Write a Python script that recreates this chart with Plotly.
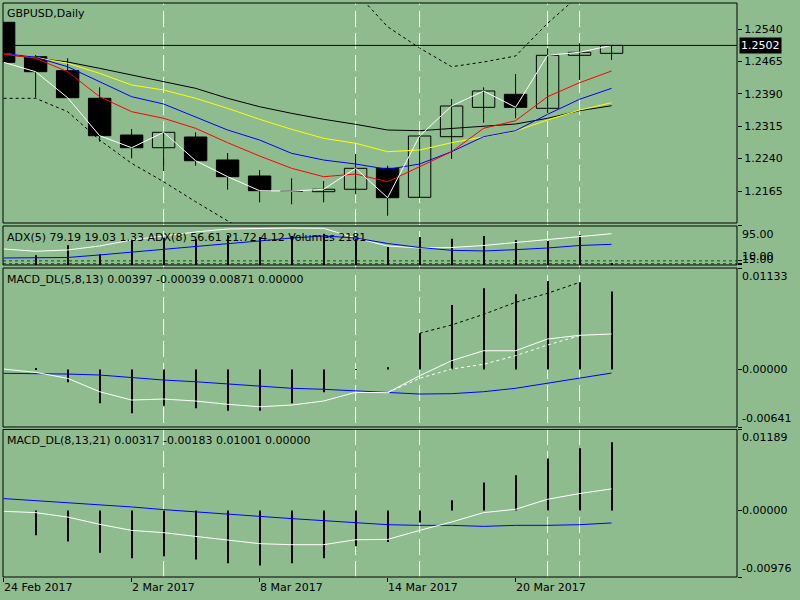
import plotly.graph_objects as go

# GBPUSD daily, 24 Feb - 23 Mar 2017
dates = ["24 Feb 2017", "27 Feb", "28 Feb", "1 Mar", "2 Mar 2017", "3 Mar", "6 Mar", "7 Mar",
         "8 Mar 2017", "9 Mar", "10 Mar", "13 Mar", "14 Mar 2017", "15 Mar", "16 Mar", "17 Mar",
         "20 Mar 2017", "21 Mar", "22 Mar", "23 Mar"]
date_ticks = [0, 4, 8, 12, 16]

opens = [1.25555, 1.24759, 1.24435, 1.23796, 1.22946, 1.22652, 1.22900, 1.22368, 1.21997, 1.21652,
         1.21634, 1.21690, 1.22175, 1.21504, 1.22907, 1.23587, 1.23888, 1.23564, 1.24791, 1.24837]
highs = [1.25555, 1.24798, 1.24722, 1.24050, 1.23085, 1.23009, 1.23009, 1.22530, 1.22136, 1.21944,
         1.21882, 1.22506, 1.22236, 1.22940, 1.23780, 1.24050, 1.24358, 1.24953, 1.25069, 1.25030]
lows = [1.24629, 1.23810, 1.23810, 1.22791, 1.22407, 1.22113, 1.22236, 1.21680, 1.21388, 1.21342,
        1.21388, 1.21574, 1.21078, 1.21500, 1.22391, 1.23231, 1.23333, 1.23450, 1.24220, 1.24682]
closes = [1.24629, 1.24412, 1.23810, 1.22930, 1.22652, 1.23009, 1.22351, 1.21981, 1.21657, 1.21648,
          1.21690, 1.22175, 1.21495, 1.22923, 1.23618, 1.23965, 1.23587, 1.24791, 1.24861, 1.25020]
last_price = 1.2502

ma_red = [1.24814, 1.24722, 1.24412, 1.23833, 1.23486, 1.23333, 1.23101, 1.22768, 1.22460, 1.22175,
          1.21981, 1.22043, 1.21865, 1.22212, 1.22560, 1.23101, 1.23277, 1.23833, 1.24157, 1.24428]
ma_blue = [1.24837, 1.24745, 1.24527, 1.24180, 1.23833, 1.23664, 1.23370, 1.23062, 1.22830, 1.22522,
           1.22367, 1.22275, 1.22152, 1.22275, 1.22560, 1.22907, 1.23046, 1.23425, 1.23773, 1.24027]
ma_yellow = [1.24837, 1.24745, 1.24606, 1.24374, 1.24104, 1.23988, 1.23796, 1.23564, 1.23310, 1.23078,
             1.22870, 1.22754, 1.22560, 1.22599, 1.22768, 1.22907, 1.23039, 1.23293, 1.23525, 1.23694]
ma_black = [1.24821, 1.24722, 1.24636, 1.24490, 1.24335, 1.24196, 1.24027, 1.23796, 1.23601, 1.23448,
            1.23310, 1.23194, 1.23062, 1.23046, 1.23101, 1.23154, 1.23201, 1.23333, 1.23509, 1.23624]
band_upper = [None] * 11 + [1.26257, 1.25453, 1.24960, 1.24527, 1.24636, 1.24775, 1.25532, 1.26187, None]
band_lower = [1.23796, 1.23796, 1.23486, 1.22830, 1.22291, 1.21865, 1.21402, 1.20962, 1.20515] + [None] * 11

adx5 = [39.0, 33.4, 36.5, 46.3, 60.9, 70.6, 80.4, 87.7, 88.9, 90.1,
        89.4, 65.8, 46.3, 41.4, 42.6, 47.5, 54.8, 62.1, 70.6, 76.2]
adx8 = [17.0, 17.0, 18.3, 24.4, 31.7, 39.0, 46.3, 51.9, 58.5, 65.8,
        70.6, 65.8, 52.4, 42.6, 35.8, 34.1, 37.3, 41.4, 47.5, 50.4]
volumes = [None, 23.6, 48.0, 26.1, 62.6, 66.5, 62.6, 72.3, 68.2, 70.6,
           76.2, 68.2, 43.8, 68.2, 64.1, 70.6, 60.2, 58.5, 72.3, 3.2]
adx_levels = [10, 3]

macd1_hist = [None, 0.00014, -0.00142, -0.00377, -0.00488, -0.00403, -0.00432, -0.00459, -0.00459, -0.00377,
              -0.00254, -0.00005, 0.00025, 0.00405, 0.00720, 0.00907, 0.00840, 0.00988, 0.00973, 0.00871]
macd1_main = [0.00006, -0.00031, -0.00098, -0.00247, -0.00340, -0.00329, -0.00351, -0.00388, -0.00415, -0.00396,
              -0.00351, -0.00254, -0.00258, -0.00069, 0.00099, 0.00210, 0.00210, 0.00341, 0.00382, 0.00397]
macd1_signal = [-0.00042, -0.00042, -0.00050, -0.00061, -0.00091, -0.00117, -0.00136, -0.00161, -0.00180, -0.00209,
                -0.00220, -0.00239, -0.00258, -0.00273, -0.00269, -0.00247, -0.00209, -0.00153, -0.00098, -0.00039]
macd1_dash_white = [None] * 12 + [-0.00258, -0.00098, 0.00006, 0.00059, 0.00155, 0.00274, 0.00378, None]
macd1_dash_black = [None] * 13 + [0.00405, 0.00497, 0.00616, 0.00750, 0.00851, 0.00973, None]

macd2_hist = [None, -0.00365, -0.00454, -0.00620, -0.00700, -0.00670, -0.00719, -0.00773, -0.00807, -0.00773,
              -0.00700, -0.00523, -0.00464, -0.00178, 0.00150, 0.00411, 0.00518, 0.00764, 0.00912, 0.01001]
macd2_main = [-0.00012, -0.00031, -0.00096, -0.00203, -0.00292, -0.00325, -0.00380, -0.00439, -0.00487, -0.00502,
              -0.00502, -0.00429, -0.00424, -0.00292, -0.00169, -0.00031, 0.00018, 0.00165, 0.00249, 0.00317]
macd2_signal = [0.00175, 0.00146, 0.00116, 0.00087, 0.00052, 0.00013, -0.00022, -0.00046, -0.00081, -0.00119,
                -0.00149, -0.00178, -0.00208, -0.00218, -0.00218, -0.00233, -0.00218, -0.00218, -0.00208, -0.00183]

separators = [5, 11, 13, 17, 18]

bg = "#8FBC8F"
idx = list(range(len(opens)))

fig = go.Figure()

# --- main pane: bands, wicks, bodies, MAs
fig.add_trace(go.Scatter(x=idx, y=band_upper, mode="lines", line=dict(color="black", width=1, dash="3px,3px")))
fig.add_trace(go.Scatter(x=idx, y=band_lower, mode="lines", line=dict(color="black", width=1, dash="3px,3px")))

wx, wy = [], []
for i in idx:
    wx += [i, i, None]
    wy += [lows[i], highs[i], None]
fig.add_trace(go.Scatter(x=wx, y=wy, mode="lines", line=dict(color="black", width=1)))

body_base = [min(o, c) for o, c in zip(opens, closes)]
body_h = [abs(c - o) for o, c in zip(opens, closes)]
body_col = [bg if c >= o else "black" for o, c in zip(opens, closes)]
fig.add_trace(go.Bar(x=idx, y=body_h, base=body_base, width=0.7,
                     marker=dict(color=body_col, line=dict(color="black", width=1))))

fig.add_trace(go.Scatter(x=idx, y=ma_black, mode="lines", line=dict(color="black", width=1)))
fig.add_trace(go.Scatter(x=idx, y=ma_yellow, mode="lines", line=dict(color="#FFFF00", width=1)))
fig.add_trace(go.Scatter(x=idx, y=ma_blue, mode="lines", line=dict(color="#0000FF", width=1)))
fig.add_trace(go.Scatter(x=idx, y=ma_red, mode="lines", line=dict(color="#FF0000", width=1)))
fig.add_trace(go.Scatter(x=idx, y=closes, mode="lines", line=dict(color="white", width=1)))

# --- ADX / volumes pane
fig.add_trace(go.Bar(x=idx, y=volumes, width=0.035, marker=dict(color="black", line=dict(width=0)), yaxis="y2"))
fig.add_trace(go.Scatter(x=idx, y=adx5, mode="lines", line=dict(color="white", width=1), yaxis="y2"))
fig.add_trace(go.Scatter(x=idx, y=adx8, mode="lines", line=dict(color="#0000FF", width=1), yaxis="y2"))

# --- MACD_DL(5,8,13)
fig.add_trace(go.Bar(x=idx, y=macd1_hist, width=0.035, marker=dict(color="black", line=dict(width=0)), yaxis="y3"))
fig.add_trace(go.Scatter(x=idx, y=macd1_signal, mode="lines", line=dict(color="#0000FF", width=1), yaxis="y3"))
fig.add_trace(go.Scatter(x=idx, y=macd1_main, mode="lines", line=dict(color="white", width=1), yaxis="y3"))
fig.add_trace(go.Scatter(x=idx, y=macd1_dash_white, mode="lines",
                         line=dict(color="white", width=1, dash="3px,3px"), yaxis="y3"))
fig.add_trace(go.Scatter(x=idx, y=macd1_dash_black, mode="lines",
                         line=dict(color="black", width=1, dash="3px,3px"), yaxis="y3"))

# --- MACD_DL(8,13,21)
fig.add_trace(go.Bar(x=idx, y=macd2_hist, width=0.035, marker=dict(color="black", line=dict(width=0)), yaxis="y4"))
fig.add_trace(go.Scatter(x=idx, y=macd2_signal, mode="lines", line=dict(color="#0000FF", width=1), yaxis="y4"))
fig.add_trace(go.Scatter(x=idx, y=macd2_main, mode="lines", line=dict(color="white", width=1), yaxis="y4"))

axis_common = dict(showgrid=False, zeroline=False, side="right", anchor="x", ticks="outside",
                   ticklen=4, tickcolor="black", fixedrange=True)

fig.update_layout(
    width=800, height=600,
    margin=dict(l=3, r=63, t=3, b=23),
    paper_bgcolor=bg, plot_bgcolor=bg,
    showlegend=False, barmode="overlay",
    font=dict(family="DejaVu Sans", size=11, color="black"),
    xaxis=dict(range=[-0.02, 22.92], anchor="y4", tickvals=date_ticks, showticklabels=False,
               ticks="outside", ticklen=4, tickcolor="black", showgrid=False, zeroline=False),
    yaxis=dict(domain=[0.6167, 1.0], range=[1.20909, 1.26002],
               tickvals=[1.2165, 1.2240, 1.2315, 1.2390, 1.2465, 1.2540], tickformat=".4f", **axis_common),
    yaxis2=dict(domain=[0.5436, 0.6115], range=[0, 95], tickvals=[95] + adx_levels + [0],
                showticklabels=False, **axis_common),
    yaxis3=dict(domain=[0.2613, 0.5383], range=[-0.00641, 0.01133], tickvals=[-0.00641, 0, 0.01133],
                showticklabels=False, **axis_common),
    yaxis4=dict(domain=[0.0, 0.2570], range=[-0.00976, 0.01189], tickvals=[-0.00976, 0, 0.01189],
                showticklabels=False, **axis_common),
)

# separators through all panes
for s in separators:
    fig.add_shape(type="line", xref="x", yref="paper", x0=s, x1=s, y0=0, y1=1, layer="below",
                  line=dict(color="white", width=1, dash="16px,6px"))

# ADX levels
for lv in adx_levels:
    fig.add_shape(type="line", xref="paper", yref="y2", x0=0, x1=1, y0=lv, y1=lv, layer="below",
                  line=dict(color="#005a00", width=1, dash="3px,3px"))

# current price line
fig.add_shape(type="line", xref="paper", yref="y", x0=0, x1=1, y0=last_price, y1=last_price,
              line=dict(color="black", width=1))

# pane frames
for ya in ["y", "y2", "y3", "y4"]:
    fig.add_shape(type="rect", xref="paper", yref=ya + " domain", x0=0, x1=1, y0=0, y1=1,
                  line=dict(color="black", width=1))

# pane captions
captions = [("y", "GBPUSD,Daily", -2),
            ("y2", "ADX(5) 79.19 19.03 1.33 ADX(8) 56.61 21.72 4.12 Volumes 2181", -3),
            ("y3", "MACD_DL(5,8,13) 0.00397 -0.00039 0.00871 0.00000", -3),
            ("y4", "MACD_DL(8,13,21) 0.00317 -0.00183 0.01001 0.00000", -3)]
for ya, txt, sh in captions:
    fig.add_annotation(text=txt, xref="paper", yref=ya + " domain", x=0, y=1, xanchor="left",
                       yanchor="top", xshift=2, yshift=sh, showarrow=False)

# right scale labels for sub panes
scale_labels = [("y2", "95.00", 1, "top"), ("y2", "10.00", 0, "bottom"), ("y2", "15.00", 0, "bottom"),
                ("y3", "0.01133", 1, "top"), ("y3", "-0.00641", 0, "bottom"),
                ("y4", "0.01189", 1, "top"), ("y4", "-0.00976", 0, "bottom")]
for ya, txt, pos, anc in scale_labels:
    fig.add_annotation(text=txt, xref="paper", yref=ya + " domain", x=1, y=pos, xanchor="left",
                       yanchor=anc, xshift=3, yshift=(-3 if txt == "15.00" else 0), showarrow=False)
for ya in ["y3", "y4"]:
    fig.add_annotation(text="0.00000", xref="paper", yref=ya, x=1, y=0, xanchor="left",
                       yanchor="middle", xshift=3, showarrow=False)

# current price tag
fig.add_annotation(text="1.2502", xref="paper", yref="y", x=1, y=last_price, xanchor="left",
                   yanchor="middle", xshift=2, showarrow=False, bgcolor="black",
                   font=dict(color="white", size=11), borderpad=1)

# date labels
for t in date_ticks:
    fig.add_annotation(text=dates[t], xref="x", yref="paper", x=t, y=0, xanchor="left",
                       yanchor="top", xshift=-2, yshift=-2, showarrow=False)

fig.write_html("out.html", config={"displayModeBar": False},
               post_script="document.body.style.margin='0';")
